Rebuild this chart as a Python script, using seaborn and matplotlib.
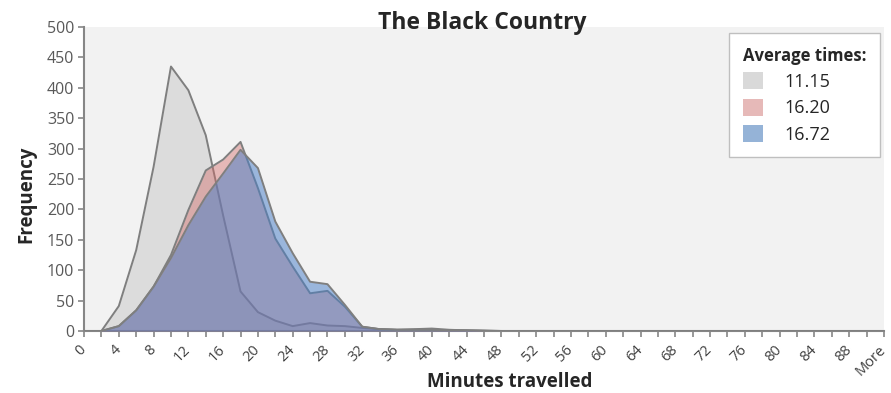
import matplotlib.pyplot as plt
import seaborn as sns
import pandas as pd
from matplotlib.patches import Patch

# categories on the x axis (minutes travelled, bins of 2)
minutes = ["0", "2", "4", "6", "8", "10", "12", "14", "16", "18", "20", "22", "24",
           "26", "28", "30", "32", "34", "36", "38", "40", "42", "44", "46", "48",
           "50", "52", "54", "56", "58", "60", "62", "64", "66", "68", "70", "72",
           "74", "76", "78", "80", "82", "84", "86", "88", "90", "More"]

# frequencies per bin, one list per series
freq_1115 = [0, 0, 41, 133, 270, 435, 396, 322, 190, 65, 31, 17, 8, 13, 9, 8, 5, 3,
             2, 3, 4, 2, 1, 1, 0, 0, 0, 0, 0, 0, 0, 0, 0, 0, 0, 0, 0, 0, 0, 0, 0, 0,
             0, 0, 0, 0, 0]
freq_1620 = [0, 0, 8, 34, 73, 125, 199, 264, 282, 311, 235, 152, 106, 62, 66, 40, 7,
             3, 2, 2, 2, 1, 1, 0, 0, 0, 0, 0, 0, 0, 0, 0, 0, 0, 0, 0, 0, 0, 0, 0, 0,
             0, 0, 0, 0, 0, 0]
freq_1672 = [0, 0, 8, 34, 73, 120, 174, 221, 259, 298, 268, 180, 128, 81, 77, 43, 7,
             3, 2, 2, 2, 1, 1, 0, 0, 0, 0, 0, 0, 0, 0, 0, 0, 0, 0, 0, 0, 0, 0, 0, 0,
             0, 0, 0, 0, 0, 0]

labels = ["11.15", "16.20", "16.72"]
legend_colors = ["#d9d9d9", "#e6b9b8", "#95b3d7"]

pos = list(range(len(minutes)))
df = pd.DataFrame({
    "pos": pos * 3,
    "freq": freq_1115 + freq_1620 + freq_1672,
    "series": [labels[0]] * len(pos) + [labels[1]] * len(pos) + [labels[2]] * len(pos),
})

sns.set_style("white")
plt.rcParams["font.family"] = ["Open Sans", "DejaVu Sans"]

fig, ax = plt.subplots(figsize=(8.91, 3.93), dpi=100)
fig.subplots_adjust(left=0.0943, right=0.9921, bottom=0.1578, top=0.9313)
ax.set_facecolor("#f2f2f2")

fills = {"11.15": ("#dcdcdc", 1.0), "16.20": ("#d46764", 0.41), "16.72": ("#497fc8", 0.52)}
for i, name in enumerate(labels):
    sub = df[df["series"] == name]
    fc, a = fills[name]
    ax.fill_between(sub["pos"], sub["freq"], color=fc, alpha=a, lw=0, zorder=2 + 2 * i)
    sns.lineplot(data=sub, x="pos", y="freq", ax=ax, color="#7f7f7f", lw=1.4,
                 zorder=3 + 2 * i, legend=False)

ax.set_xlim(0, len(minutes) - 1)
ax.set_ylim(0, 500)
ax.set_yticks(range(0, 501, 50))
ax.set_xticks(pos)
ax.set_xticklabels([m if i % 2 == 0 else "" for i, m in enumerate(minutes)],
                   rotation=45, ha="right", va="center", rotation_mode="anchor",
                   fontsize=10.5, color="#404040")
ax.tick_params(axis="y", labelsize=11.5, labelcolor="#595959", length=4,
               color="#868686", width=1.2, direction="out", left=True, pad=3)
ax.tick_params(axis="x", length=4, color="#868686", width=1.2, direction="out",
               bottom=True, pad=8)
for s in ["top", "right"]:
    ax.spines[s].set_visible(False)
for s in ["left", "bottom"]:
    ax.spines[s].set_color("#868686")
    ax.spines[s].set_linewidth(1.5)
ax.set_xlabel("")
ax.set_ylabel("")

fig.text(482 / 891, 1 - 29 / 393, "The Black Country", ha="center", va="baseline",
         fontsize=16.5, fontweight="bold")
fig.text(26 / 891, 1 - 194 / 393, "Frequency", ha="center", va="center",
         rotation=90, fontsize=13.5, fontweight="bold")
fig.text(510 / 891, 1 - 382 / 393, "Minutes travelled", ha="center", va="center",
         fontsize=13.5, fontweight="bold")

handles = [Patch(facecolor=c, edgecolor="none") for c in legend_colors]
leg = ax.legend(handles, labels, title="Average times:", loc="upper right",
                bbox_to_anchor=(880 / 891, 1 - 33 / 393), bbox_transform=fig.transFigure,
                borderaxespad=0, fontsize=13, title_fontproperties={"weight": "bold", "size": 12},
                handlelength=1.1, handleheight=1.1, handletextpad=1.2, labelspacing=0.42,
                fancybox=False, framealpha=1, edgecolor="#bfbfbf", borderpad=0.75,
                alignment="left")
leg.get_frame().set_linewidth(1.0)

fig.savefig("out.png", dpi=100, facecolor="white")
